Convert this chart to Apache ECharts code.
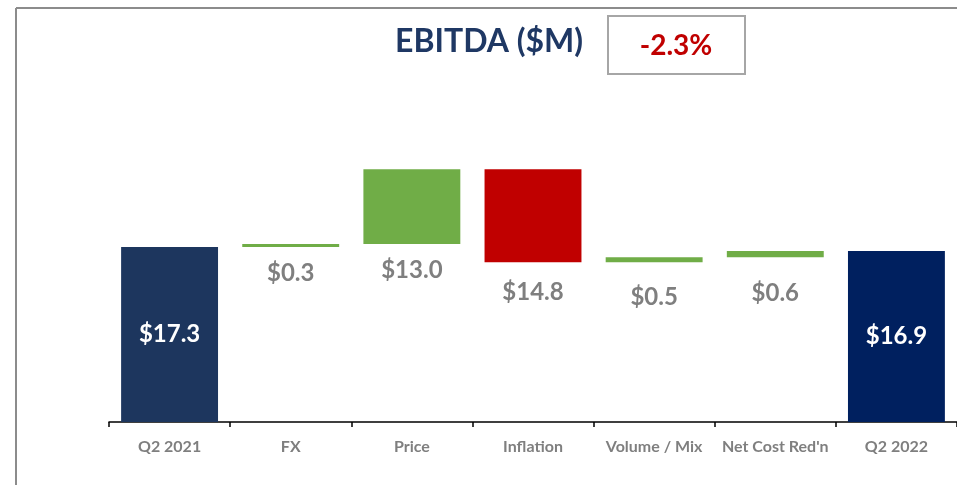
<!DOCTYPE html>
<html>
<head>
<meta charset="utf-8">
<script src="https://cdn.jsdelivr.net/npm/echarts@6/dist/echarts.min.js"></script>
<style>
  html, body { margin: 0; padding: 0; background: #fff; }
  #chart { width: 957px; height: 485px; }
</style>
</head>
<body>
<div id="chart"></div>
<script>
var categories = ['Q2 2021', 'FX', 'Price', 'Inflation', 'Volume / Mix', "Net Cost Red'n", 'Q2 2022'];
// first and last are totals, the rest are changes
var values = [17.3, 0.3, 13.0, -14.8, 0.5, 0.6, 16.9];
var isTotal = [true, false, false, false, false, false, true];
var titleText = 'EBITDA ($M)';
var changeText = '-2.3%';

// waterfall: invisible base + visible part
var base = [];
var height = [];
var running = 0;
values.forEach(function (v, i) {
  if (isTotal[i]) {
    base.push(0);
    height.push(v);
    running = v;
  } else {
    base.push(v >= 0 ? running : running + v);
    height.push(Math.abs(v));
    running += v;
  }
});

var FONT = 'Lato';
// label gap below the change bars (the slide places them by hand)
var labelGap = [0, 14, 14, 18, 23, 24, 0];
var barData = height.map(function (h, i) {
  var color;
  if (isTotal[i]) color = i === 0 ? '#1d365e' : '#00205f';
  else color = values[i] >= 0 ? '#70ad47' : '#c00000';
  return {
    value: h,
    itemStyle: { color: color },
    label: isTotal[i]
      ? { position: 'inside', color: '#ffffff' }
      : { position: 'bottom', distance: labelGap[i], color: '#7f7f7f' }
  };
});

var chart = echarts.init(document.getElementById('chart'));
chart.setOption({
  animation: false,
  title: {
    text: titleText,
    left: 390,
    top: 21,
    textStyle: { fontFamily: FONT, fontSize: 32, fontWeight: 'bold', color: '#1f3864' }
  },
  graphic: [
    { type: 'line', shape: { x1: 16, y1: 8, x2: 957, y2: 8 }, style: { stroke: '#8c8c8c', lineWidth: 2 } },
    { type: 'line', shape: { x1: 16, y1: 8, x2: 16, y2: 485 }, style: { stroke: '#8c8c8c', lineWidth: 2 } },
    { type: 'rect', shape: { x: 608, y: 16, width: 137, height: 58 }, style: { fill: '#fff', stroke: '#a6a6a6', lineWidth: 2 } },
    {
      type: 'text', x: 676, y: 46,
      style: { text: changeText, fill: '#c00000', font: 'bold 28px ' + FONT, align: 'center', verticalAlign: 'middle' }
    }
  ],
  grid: { left: 109, right: -2, top: 155, bottom: 63 },
  xAxis: {
    type: 'category',
    data: categories,
    axisLine: { lineStyle: { color: '#000', width: 1.5 } },
    axisTick: { show: true, length: 5, lineStyle: { color: '#000', width: 1.5 } },
    axisLabel: { interval: 0, margin: 17, fontFamily: FONT, fontSize: 16, fontWeight: 'bold', color: '#7f7f7f' }
  },
  yAxis: {
    type: 'value',
    min: 0,
    max: 32,
    show: false,
    splitLine: { show: false },
    // the reference squeezes the top of the Price / Inflation step
    breaks: [{ start: 20, end: 25.6, gap: 0 }],
    breakArea: { show: false }
  },
  series: [
    {
      type: 'bar',
      stack: 'wf',
      silent: true,
      barWidth: '80%',
      itemStyle: { color: 'transparent' },
      data: base
    },
    {
      type: 'bar',
      stack: 'wf',
      barWidth: '80%',
      label: {
        show: true,
        fontFamily: FONT,
        fontSize: 24,
        fontWeight: 'bold',
        formatter: function (p) { return '$' + Math.abs(values[p.dataIndex]).toFixed(1); }
      },
      data: barData
    }
  ]
});
</script>
</body>
</html>
